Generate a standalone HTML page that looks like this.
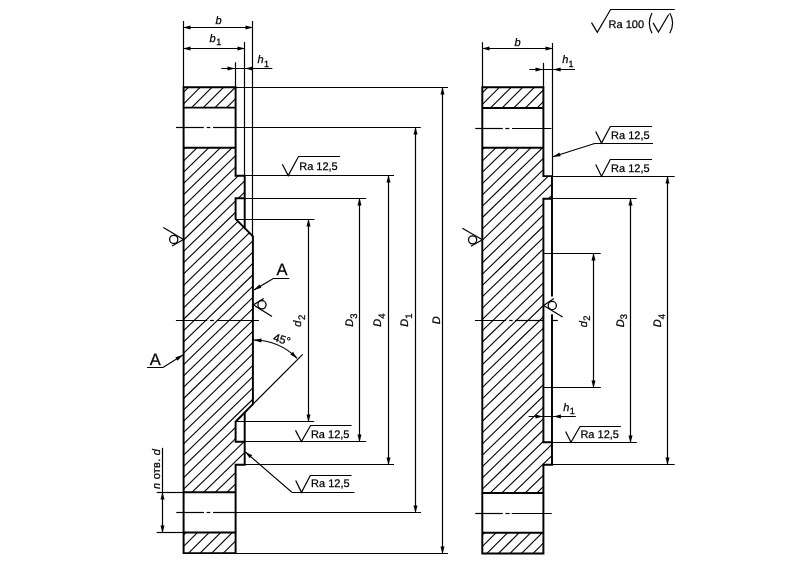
<!DOCTYPE html>
<html><head><meta charset="utf-8"><title>Flange drawing</title>
<style>html,body{margin:0;padding:0;background:#fff;}body{width:786px;height:576px;overflow:hidden;font-family:"Liberation Sans",sans-serif;}svg text{font-family:"Liberation Sans",sans-serif;text-rendering:geometricPrecision;}svg{will-change:transform;filter:grayscale(1);}</style>
</head><body>
<svg width="786" height="576" viewBox="0 0 786 576" style="display:block">
<defs><clipPath id="cl"><path d="M183.60 147.80 L235.60 147.80 L235.60 175.70 L244.70 175.70 L244.70 198.30 L235.60 198.30 L235.60 218.90 L252.90 236.40 L252.90 404.20 L235.60 421.70 L235.60 441.80 L244.70 441.80 L244.70 464.80 L235.60 464.80 L235.60 492.30 L183.60 492.30 Z "/></clipPath><clipPath id="clt"><path d="M183.60 87.20 L235.60 87.20 L235.60 107.60 L183.60 107.60 Z "/></clipPath><clipPath id="clb"><path d="M183.60 532.40 L235.60 532.40 L235.60 553.10 L183.60 553.10 Z "/></clipPath><clipPath id="cr"><path d="M482.30 147.80 L543.40 147.80 L543.40 176.10 L552.00 176.10 L552.00 198.70 L543.40 198.70 L543.40 442.20 L552.00 442.20 L552.00 464.80 L543.40 464.80 L543.40 493.00 L482.30 493.00 Z "/></clipPath><clipPath id="crt"><path d="M482.30 87.30 L543.40 87.30 L543.40 107.90 L482.30 107.90 Z "/></clipPath><clipPath id="crb"><path d="M482.30 532.80 L543.40 532.80 L543.40 553.50 L482.30 553.50 Z "/></clipPath></defs>
<rect width="786" height="576" fill="#fff"/>
<g stroke="#000" fill="none" stroke-linecap="butt" stroke-linejoin="miter" font-family="Liberation Sans, sans-serif">
<g clip-path="url(#cl)">
<line x1="178.60" y1="143.02" x2="257.90" y2="66.10" stroke-width="1.1" />
<line x1="178.60" y1="154.34" x2="257.90" y2="77.42" stroke-width="1.1" />
<line x1="178.60" y1="165.66" x2="257.90" y2="88.74" stroke-width="1.1" />
<line x1="178.60" y1="176.98" x2="257.90" y2="100.06" stroke-width="1.1" />
<line x1="178.60" y1="188.30" x2="257.90" y2="111.38" stroke-width="1.1" />
<line x1="178.60" y1="199.62" x2="257.90" y2="122.70" stroke-width="1.1" />
<line x1="178.60" y1="210.94" x2="257.90" y2="134.02" stroke-width="1.1" />
<line x1="178.60" y1="222.26" x2="257.90" y2="145.34" stroke-width="1.1" />
<line x1="178.60" y1="233.58" x2="257.90" y2="156.66" stroke-width="1.1" />
<line x1="178.60" y1="244.90" x2="257.90" y2="167.98" stroke-width="1.1" />
<line x1="178.60" y1="256.22" x2="257.90" y2="179.30" stroke-width="1.1" />
<line x1="178.60" y1="267.54" x2="257.90" y2="190.62" stroke-width="1.1" />
<line x1="178.60" y1="278.86" x2="257.90" y2="201.94" stroke-width="1.1" />
<line x1="178.60" y1="290.18" x2="257.90" y2="213.26" stroke-width="1.1" />
<line x1="178.60" y1="301.50" x2="257.90" y2="224.58" stroke-width="1.1" />
<line x1="178.60" y1="312.82" x2="257.90" y2="235.90" stroke-width="1.1" />
<line x1="178.60" y1="324.14" x2="257.90" y2="247.22" stroke-width="1.1" />
<line x1="178.60" y1="335.46" x2="257.90" y2="258.54" stroke-width="1.1" />
<line x1="178.60" y1="346.78" x2="257.90" y2="269.86" stroke-width="1.1" />
<line x1="178.60" y1="358.10" x2="257.90" y2="281.18" stroke-width="1.1" />
<line x1="178.60" y1="369.42" x2="257.90" y2="292.50" stroke-width="1.1" />
<line x1="178.60" y1="380.74" x2="257.90" y2="303.82" stroke-width="1.1" />
<line x1="178.60" y1="392.06" x2="257.90" y2="315.14" stroke-width="1.1" />
<line x1="178.60" y1="403.38" x2="257.90" y2="326.46" stroke-width="1.1" />
<line x1="178.60" y1="414.70" x2="257.90" y2="337.78" stroke-width="1.1" />
<line x1="178.60" y1="426.02" x2="257.90" y2="349.10" stroke-width="1.1" />
<line x1="178.60" y1="437.34" x2="257.90" y2="360.42" stroke-width="1.1" />
<line x1="178.60" y1="448.66" x2="257.90" y2="371.74" stroke-width="1.1" />
<line x1="178.60" y1="459.98" x2="257.90" y2="383.06" stroke-width="1.1" />
<line x1="178.60" y1="471.30" x2="257.90" y2="394.38" stroke-width="1.1" />
<line x1="178.60" y1="482.62" x2="257.90" y2="405.70" stroke-width="1.1" />
<line x1="178.60" y1="493.94" x2="257.90" y2="417.02" stroke-width="1.1" />
<line x1="178.60" y1="505.26" x2="257.90" y2="428.34" stroke-width="1.1" />
<line x1="178.60" y1="516.58" x2="257.90" y2="439.66" stroke-width="1.1" />
<line x1="178.60" y1="527.90" x2="257.90" y2="450.98" stroke-width="1.1" />
<line x1="178.60" y1="539.22" x2="257.90" y2="462.30" stroke-width="1.1" />
<line x1="178.60" y1="550.54" x2="257.90" y2="473.62" stroke-width="1.1" />
<line x1="178.60" y1="561.86" x2="257.90" y2="484.94" stroke-width="1.1" />
<line x1="178.60" y1="573.18" x2="257.90" y2="496.26" stroke-width="1.1" />
</g>
<g clip-path="url(#clt)">
<line x1="178.60" y1="85.50" x2="257.90" y2="6.20" stroke-width="1.1" />
<line x1="178.60" y1="97.20" x2="257.90" y2="17.90" stroke-width="1.1" />
<line x1="178.60" y1="108.90" x2="257.90" y2="29.60" stroke-width="1.1" />
<line x1="178.60" y1="120.60" x2="257.90" y2="41.30" stroke-width="1.1" />
<line x1="178.60" y1="132.30" x2="257.90" y2="53.00" stroke-width="1.1" />
<line x1="178.60" y1="144.00" x2="257.90" y2="64.70" stroke-width="1.1" />
<line x1="178.60" y1="155.70" x2="257.90" y2="76.40" stroke-width="1.1" />
<line x1="178.60" y1="167.40" x2="257.90" y2="88.10" stroke-width="1.1" />
<line x1="178.60" y1="179.10" x2="257.90" y2="99.80" stroke-width="1.1" />
<line x1="178.60" y1="190.80" x2="257.90" y2="111.50" stroke-width="1.1" />
</g>
<g clip-path="url(#clb)">
<line x1="178.60" y1="528.23" x2="257.90" y2="448.93" stroke-width="1.1" />
<line x1="178.60" y1="539.83" x2="257.90" y2="460.53" stroke-width="1.1" />
<line x1="178.60" y1="551.43" x2="257.90" y2="472.13" stroke-width="1.1" />
<line x1="178.60" y1="563.03" x2="257.90" y2="483.73" stroke-width="1.1" />
<line x1="178.60" y1="574.63" x2="257.90" y2="495.33" stroke-width="1.1" />
<line x1="178.60" y1="586.23" x2="257.90" y2="506.93" stroke-width="1.1" />
<line x1="178.60" y1="597.83" x2="257.90" y2="518.53" stroke-width="1.1" />
<line x1="178.60" y1="609.43" x2="257.90" y2="530.13" stroke-width="1.1" />
<line x1="178.60" y1="621.03" x2="257.90" y2="541.73" stroke-width="1.1" />
<line x1="178.60" y1="632.63" x2="257.90" y2="553.33" stroke-width="1.1" />
</g>
<polyline points="183.60,87.20 235.60,87.20 235.60,175.70 244.70,175.70 244.70,198.30 235.60,198.30 235.60,218.90 252.90,236.40 252.90,404.20 235.60,421.70 235.60,441.80 244.70,441.80 244.70,464.80 235.60,464.80 235.60,553.10 183.60,553.10 183.60,87.20 235.60,87.20" stroke-width="1.95" fill="none" />
<line x1="183.60" y1="107.60" x2="235.60" y2="107.60" stroke-width="1.95" />
<line x1="183.60" y1="147.80" x2="235.60" y2="147.80" stroke-width="1.95" />
<line x1="183.60" y1="492.30" x2="235.60" y2="492.30" stroke-width="1.95" />
<line x1="183.60" y1="532.40" x2="235.60" y2="532.40" stroke-width="1.95" />
<line x1="244.70" y1="198.30" x2="244.70" y2="227.90" stroke-width="1.95" />
<line x1="244.70" y1="441.80" x2="244.70" y2="412.70" stroke-width="1.95" />
<line x1="183.50" y1="21.00" x2="183.50" y2="87.20" stroke-width="1.2" />
<line x1="252.50" y1="21.00" x2="252.50" y2="236.40" stroke-width="1.2" />
<line x1="244.50" y1="42.00" x2="244.50" y2="175.70" stroke-width="1.2" />
<line x1="235.50" y1="62.30" x2="235.50" y2="87.20" stroke-width="1.2" />
<line x1="183.60" y1="27.50" x2="252.90" y2="27.50" stroke-width="1.2" />
<polygon points="183.00,27.50 190.50,25.50 190.50,29.50" fill="#000" stroke="none"/>
<polygon points="253.00,27.50 245.50,29.50 245.50,25.50" fill="#000" stroke="none"/>
<line x1="183.60" y1="48.50" x2="244.70" y2="48.50" stroke-width="1.2" />
<polygon points="183.00,48.50 190.50,46.50 190.50,50.50" fill="#000" stroke="none"/>
<polygon points="245.00,48.50 237.50,50.50 237.50,46.50" fill="#000" stroke="none"/>
<line x1="221.30" y1="68.50" x2="272.30" y2="68.50" stroke-width="1.2" />
<polygon points="235.00,68.50 227.50,70.50 227.50,66.50" fill="#000" stroke="none"/>
<polygon points="245.00,68.50 252.50,66.50 252.50,70.50" fill="#000" stroke="none"/>
<text fill="#000" stroke="#000" stroke-width="0.25" x="215.40" y="24.40" text-anchor="start" style="font-size:11px;font-style:italic;" >b</text>
<text fill="#000" stroke="#000" stroke-width="0.25" x="209.60" y="42.00" text-anchor="start" style="font-size:11px;font-style:italic;" >b</text>
<text fill="#000" stroke="#000" stroke-width="0.25" x="216.20" y="45.20" text-anchor="start" style="font-size:9px;" >1</text>
<text fill="#000" stroke="#000" stroke-width="0.25" x="257.60" y="63.10" text-anchor="start" style="font-size:11px;font-style:italic;" >h</text>
<text fill="#000" stroke="#000" stroke-width="0.25" x="264.00" y="66.60" text-anchor="start" style="font-size:9px;" >1</text>
<line x1="235.60" y1="87.50" x2="448.00" y2="87.50" stroke-width="1.2" />
<line x1="235.60" y1="127.50" x2="420.80" y2="127.50" stroke-width="1.2" />
<line x1="244.70" y1="175.50" x2="394.00" y2="175.50" stroke-width="1.2" />
<line x1="244.70" y1="198.50" x2="366.20" y2="198.50" stroke-width="1.2" />
<line x1="235.60" y1="219.50" x2="314.40" y2="219.50" stroke-width="1.2" />
<line x1="235.60" y1="421.50" x2="314.20" y2="421.50" stroke-width="1.2" />
<line x1="244.70" y1="441.50" x2="366.20" y2="441.50" stroke-width="1.2" />
<line x1="244.70" y1="464.50" x2="394.00" y2="464.50" stroke-width="1.2" />
<line x1="235.60" y1="512.50" x2="421.00" y2="512.50" stroke-width="1.2" />
<line x1="235.60" y1="553.50" x2="448.00" y2="553.50" stroke-width="1.2" />
<line x1="176.00" y1="127.50" x2="203.80" y2="127.50" stroke-width="1.2" />
<line x1="206.70" y1="127.50" x2="210.30" y2="127.50" stroke-width="1.2" />
<line x1="213.00" y1="127.50" x2="235.60" y2="127.50" stroke-width="1.2" />
<line x1="176.30" y1="512.50" x2="204.00" y2="512.50" stroke-width="1.2" />
<line x1="206.60" y1="512.50" x2="210.30" y2="512.50" stroke-width="1.2" />
<line x1="213.00" y1="512.50" x2="235.60" y2="512.50" stroke-width="1.2" />
<line x1="175.90" y1="320.50" x2="207.20" y2="320.50" stroke-width="1.2" />
<line x1="209.90" y1="320.50" x2="214.00" y2="320.50" stroke-width="1.2" />
<line x1="216.60" y1="320.50" x2="258.90" y2="320.50" stroke-width="1.2" />
<line x1="308.50" y1="219.00" x2="308.50" y2="421.00" stroke-width="1.2" />
<polygon points="308.50,219.00 310.50,226.50 306.50,226.50" fill="#000" stroke="none"/>
<polygon points="308.50,422.00 306.50,414.50 310.50,414.50" fill="#000" stroke="none"/>
<line x1="359.50" y1="198.30" x2="359.50" y2="441.80" stroke-width="1.2" />
<polygon points="359.50,198.00 361.50,205.50 357.50,205.50" fill="#000" stroke="none"/>
<polygon points="359.50,442.00 357.50,434.50 361.50,434.50" fill="#000" stroke="none"/>
<line x1="388.50" y1="175.70" x2="388.50" y2="464.80" stroke-width="1.2" />
<polygon points="388.50,175.00 390.50,182.50 386.50,182.50" fill="#000" stroke="none"/>
<polygon points="388.50,465.00 386.50,457.50 390.50,457.50" fill="#000" stroke="none"/>
<line x1="415.50" y1="127.80" x2="415.50" y2="512.30" stroke-width="1.2" />
<polygon points="415.50,127.00 417.50,134.50 413.50,134.50" fill="#000" stroke="none"/>
<polygon points="415.50,513.00 413.50,505.50 417.50,505.50" fill="#000" stroke="none"/>
<line x1="442.50" y1="87.20" x2="442.50" y2="553.10" stroke-width="1.2" />
<polygon points="442.50,87.00 444.50,94.50 440.50,94.50" fill="#000" stroke="none"/>
<polygon points="442.50,554.00 440.50,546.50 444.50,546.50" fill="#000" stroke="none"/>
<g transform="translate(301.40 320.30) rotate(-90)">
<text fill="#000" stroke="#000" stroke-width="0.25" x="-6.4" y="0" style="font-size:11px;font-style:italic">d</text>
<text fill="#000" stroke="#000" stroke-width="0.25" x="0.2" y="3.6" style="font-size:9.5px">2</text>
</g>
<g transform="translate(352.90 320.30) rotate(-90)">
<text fill="#000" stroke="#000" stroke-width="0.25" x="-6.4" y="0" style="font-size:11px;font-style:italic">D</text>
<text fill="#000" stroke="#000" stroke-width="0.25" x="1.6" y="3.6" style="font-size:9.5px">3</text>
</g>
<g transform="translate(381.30 320.30) rotate(-90)">
<text fill="#000" stroke="#000" stroke-width="0.25" x="-6.4" y="0" style="font-size:11px;font-style:italic">D</text>
<text fill="#000" stroke="#000" stroke-width="0.25" x="1.6" y="3.6" style="font-size:9.5px">4</text>
</g>
<g transform="translate(408.40 320.30) rotate(-90)">
<text fill="#000" stroke="#000" stroke-width="0.25" x="-6.4" y="0" style="font-size:11px;font-style:italic">D</text>
<text fill="#000" stroke="#000" stroke-width="0.25" x="1.6" y="3.6" style="font-size:9.5px">1</text>
</g>
<g transform="translate(439.60 320.30) rotate(-90)">
<text fill="#000" stroke="#000" stroke-width="0.25" x="-4" y="0" style="font-size:11px;font-style:italic">D</text>
</g>
<line x1="183.50" y1="239.50" x2="163.40" y2="227.40" stroke-width="1.2" />
<line x1="183.50" y1="239.50" x2="172.00" y2="246.10" stroke-width="1.2" />
<circle cx="173.70" cy="239.40" r="4.1" fill="none" stroke-width="1.25"/>
<line x1="253.40" y1="304.80" x2="272.00" y2="316.60" stroke-width="1.2" />
<line x1="253.40" y1="304.80" x2="263.70" y2="298.40" stroke-width="1.2" />
<circle cx="262.00" cy="304.80" r="4.1" fill="none" stroke-width="1.25"/>
<text fill="#000" stroke="#000" stroke-width="0.25" x="276.50" y="275.40" text-anchor="start" style="font-size:16.5px;" >A</text>
<polyline points="289.30,278.50 273.30,278.50 254.10,289.90" stroke-width="1.2" fill="none" />
<polygon points="253.90,290.00 259.29,284.41 261.35,287.83" fill="#000" stroke="none"/>
<text fill="#000" stroke="#000" stroke-width="0.25" x="149.80" y="364.80" text-anchor="start" style="font-size:16.5px;" >A</text>
<polyline points="147.10,367.50 163.00,367.50 182.90,355.10" stroke-width="1.2" fill="none" />
<polygon points="182.90,355.10 177.49,360.67 175.44,357.23" fill="#000" stroke="none"/>
<path d="M253.00 340.00 A62.3 62.3 0 0 1 297.05 358.25" fill="none" stroke-width="1.2"/>
<polygon points="253.90,340.10 261.51,338.55 261.27,342.55" fill="#000" stroke="none"/>
<polygon points="297.05,358.25 290.24,354.53 292.99,351.63" fill="#000" stroke="none"/>
<line x1="252.90" y1="404.20" x2="302.70" y2="354.30" stroke-width="1.2" />
<text fill="#000" stroke="#000" stroke-width="0.25" x="280.80" y="343.20" text-anchor="middle" style="font-size:11.5px;" transform="rotate(16 280.80 343.20)" >45°</text>
<line x1="156.70" y1="492.50" x2="183.60" y2="492.50" stroke-width="1.2" />
<line x1="156.70" y1="532.50" x2="183.60" y2="532.50" stroke-width="1.2" />
<line x1="162.50" y1="447.80" x2="162.50" y2="532.40" stroke-width="1.2" />
<polygon points="162.50,492.00 164.50,499.50 160.50,499.50" fill="#000" stroke="none"/>
<polygon points="162.50,533.00 160.50,525.50 164.50,525.50" fill="#000" stroke="none"/>
<g transform="translate(160.3 489.0) rotate(-90)"><text fill="#000" stroke="#000" stroke-width="0.25" x="0" y="0" style="font-size:11px;letter-spacing:0.25px"><tspan style="font-style:italic">n</tspan> отв. <tspan style="font-style:italic">d</tspan></text></g>
<polyline points="282.30,164.30 288.20,175.60 298.50,156.50 339.90,156.50" stroke-width="1.2" fill="none" />
<text fill="#000" stroke="#000" stroke-width="0.25" x="299.20" y="170.10" text-anchor="start" style="font-size:11px;" >Ra 12,5</text>
<polyline points="295.50,430.40 301.40,441.50 310.60,425.50 351.60,425.50" stroke-width="1.2" fill="none" />
<text fill="#000" stroke="#000" stroke-width="0.25" x="310.90" y="437.50" text-anchor="start" style="font-size:11px;" >Ra 12,5</text>
<polyline points="295.70,480.50 301.50,492.30 310.30,475.50 351.60,475.50" stroke-width="1.2" fill="none" />
<text fill="#000" stroke="#000" stroke-width="0.25" x="311.10" y="487.10" text-anchor="start" style="font-size:11px;" >Ra 12,5</text>
<polyline points="354.40,492.50 292.10,492.50 245.30,451.90" stroke-width="1.2" fill="none" />
<polygon points="245.30,451.90 252.28,455.29 249.67,458.31" fill="#000" stroke="none"/>
<g clip-path="url(#cr)">
<line x1="477.30" y1="143.18" x2="557.00" y2="65.87" stroke-width="1.1" />
<line x1="477.30" y1="154.50" x2="557.00" y2="77.19" stroke-width="1.1" />
<line x1="477.30" y1="165.82" x2="557.00" y2="88.51" stroke-width="1.1" />
<line x1="477.30" y1="177.14" x2="557.00" y2="99.83" stroke-width="1.1" />
<line x1="477.30" y1="188.46" x2="557.00" y2="111.15" stroke-width="1.1" />
<line x1="477.30" y1="199.78" x2="557.00" y2="122.47" stroke-width="1.1" />
<line x1="477.30" y1="211.10" x2="557.00" y2="133.79" stroke-width="1.1" />
<line x1="477.30" y1="222.42" x2="557.00" y2="145.11" stroke-width="1.1" />
<line x1="477.30" y1="233.74" x2="557.00" y2="156.43" stroke-width="1.1" />
<line x1="477.30" y1="245.06" x2="557.00" y2="167.75" stroke-width="1.1" />
<line x1="477.30" y1="256.38" x2="557.00" y2="179.07" stroke-width="1.1" />
<line x1="477.30" y1="267.70" x2="557.00" y2="190.39" stroke-width="1.1" />
<line x1="477.30" y1="279.02" x2="557.00" y2="201.71" stroke-width="1.1" />
<line x1="477.30" y1="290.34" x2="557.00" y2="213.03" stroke-width="1.1" />
<line x1="477.30" y1="301.66" x2="557.00" y2="224.35" stroke-width="1.1" />
<line x1="477.30" y1="312.98" x2="557.00" y2="235.67" stroke-width="1.1" />
<line x1="477.30" y1="324.30" x2="557.00" y2="246.99" stroke-width="1.1" />
<line x1="477.30" y1="335.62" x2="557.00" y2="258.31" stroke-width="1.1" />
<line x1="477.30" y1="346.94" x2="557.00" y2="269.63" stroke-width="1.1" />
<line x1="477.30" y1="358.26" x2="557.00" y2="280.95" stroke-width="1.1" />
<line x1="477.30" y1="369.58" x2="557.00" y2="292.27" stroke-width="1.1" />
<line x1="477.30" y1="380.90" x2="557.00" y2="303.59" stroke-width="1.1" />
<line x1="477.30" y1="392.22" x2="557.00" y2="314.91" stroke-width="1.1" />
<line x1="477.30" y1="403.54" x2="557.00" y2="326.23" stroke-width="1.1" />
<line x1="477.30" y1="414.86" x2="557.00" y2="337.55" stroke-width="1.1" />
<line x1="477.30" y1="426.18" x2="557.00" y2="348.87" stroke-width="1.1" />
<line x1="477.30" y1="437.50" x2="557.00" y2="360.19" stroke-width="1.1" />
<line x1="477.30" y1="448.82" x2="557.00" y2="371.51" stroke-width="1.1" />
<line x1="477.30" y1="460.14" x2="557.00" y2="382.83" stroke-width="1.1" />
<line x1="477.30" y1="471.46" x2="557.00" y2="394.15" stroke-width="1.1" />
<line x1="477.30" y1="482.78" x2="557.00" y2="405.47" stroke-width="1.1" />
<line x1="477.30" y1="494.10" x2="557.00" y2="416.79" stroke-width="1.1" />
<line x1="477.30" y1="505.42" x2="557.00" y2="428.11" stroke-width="1.1" />
<line x1="477.30" y1="516.74" x2="557.00" y2="439.43" stroke-width="1.1" />
<line x1="477.30" y1="528.06" x2="557.00" y2="450.75" stroke-width="1.1" />
<line x1="477.30" y1="539.38" x2="557.00" y2="462.07" stroke-width="1.1" />
<line x1="477.30" y1="550.70" x2="557.00" y2="473.39" stroke-width="1.1" />
<line x1="477.30" y1="562.02" x2="557.00" y2="484.71" stroke-width="1.1" />
<line x1="477.30" y1="573.34" x2="557.00" y2="496.03" stroke-width="1.1" />
</g>
<g clip-path="url(#crt)">
<line x1="477.30" y1="86.16" x2="557.00" y2="6.46" stroke-width="1.1" />
<line x1="477.30" y1="97.81" x2="557.00" y2="18.11" stroke-width="1.1" />
<line x1="477.30" y1="109.46" x2="557.00" y2="29.76" stroke-width="1.1" />
<line x1="477.30" y1="121.11" x2="557.00" y2="41.41" stroke-width="1.1" />
<line x1="477.30" y1="132.76" x2="557.00" y2="53.06" stroke-width="1.1" />
<line x1="477.30" y1="144.41" x2="557.00" y2="64.71" stroke-width="1.1" />
<line x1="477.30" y1="156.06" x2="557.00" y2="76.36" stroke-width="1.1" />
<line x1="477.30" y1="167.71" x2="557.00" y2="88.01" stroke-width="1.1" />
<line x1="477.30" y1="179.36" x2="557.00" y2="99.66" stroke-width="1.1" />
<line x1="477.30" y1="191.01" x2="557.00" y2="111.31" stroke-width="1.1" />
</g>
<g clip-path="url(#crb)">
<line x1="477.30" y1="528.47" x2="557.00" y2="448.77" stroke-width="1.1" />
<line x1="477.30" y1="540.00" x2="557.00" y2="460.30" stroke-width="1.1" />
<line x1="477.30" y1="551.53" x2="557.00" y2="471.83" stroke-width="1.1" />
<line x1="477.30" y1="563.06" x2="557.00" y2="483.36" stroke-width="1.1" />
<line x1="477.30" y1="574.59" x2="557.00" y2="494.89" stroke-width="1.1" />
<line x1="477.30" y1="586.12" x2="557.00" y2="506.42" stroke-width="1.1" />
<line x1="477.30" y1="597.65" x2="557.00" y2="517.95" stroke-width="1.1" />
<line x1="477.30" y1="609.18" x2="557.00" y2="529.48" stroke-width="1.1" />
<line x1="477.30" y1="620.71" x2="557.00" y2="541.01" stroke-width="1.1" />
<line x1="477.30" y1="632.24" x2="557.00" y2="552.54" stroke-width="1.1" />
</g>
<polyline points="482.30,87.30 543.40,87.30 543.40,176.10 552.00,176.10 552.00,198.70 543.40,198.70 543.40,442.20 552.00,442.20 552.00,464.80 543.40,464.80 543.40,553.50 482.30,553.50 482.30,87.30 543.40,87.30" stroke-width="1.95" fill="none" />
<line x1="482.30" y1="107.90" x2="543.40" y2="107.90" stroke-width="1.95" />
<line x1="482.30" y1="147.80" x2="543.40" y2="147.80" stroke-width="1.95" />
<line x1="482.30" y1="493.00" x2="543.40" y2="493.00" stroke-width="1.95" />
<line x1="482.30" y1="532.80" x2="543.40" y2="532.80" stroke-width="1.95" />
<line x1="552.00" y1="198.70" x2="552.00" y2="296.40" stroke-width="1.95" />
<line x1="552.00" y1="314.20" x2="552.00" y2="442.20" stroke-width="1.95" />
<line x1="482.50" y1="42.20" x2="482.50" y2="87.30" stroke-width="1.2" />
<line x1="552.50" y1="43.00" x2="552.50" y2="176.10" stroke-width="1.2" />
<line x1="543.50" y1="62.90" x2="543.50" y2="87.30" stroke-width="1.2" />
<line x1="482.30" y1="48.50" x2="552.10" y2="48.50" stroke-width="1.2" />
<polygon points="482.00,48.50 489.50,46.50 489.50,50.50" fill="#000" stroke="none"/>
<polygon points="553.00,48.50 545.50,50.50 545.50,46.50" fill="#000" stroke="none"/>
<line x1="529.30" y1="69.50" x2="574.90" y2="69.50" stroke-width="1.2" />
<polygon points="543.00,69.50 535.50,71.50 535.50,67.50" fill="#000" stroke="none"/>
<polygon points="553.10,69.50 560.60,67.50 560.60,71.50" fill="#000" stroke="none"/>
<text fill="#000" stroke="#000" stroke-width="0.25" x="514.60" y="45.70" text-anchor="start" style="font-size:11px;font-style:italic;" >b</text>
<text fill="#000" stroke="#000" stroke-width="0.25" x="562.30" y="63.20" text-anchor="start" style="font-size:11px;font-style:italic;" >h</text>
<text fill="#000" stroke="#000" stroke-width="0.25" x="568.40" y="66.70" text-anchor="start" style="font-size:9px;" >1</text>
<line x1="475.20" y1="128.50" x2="502.80" y2="128.50" stroke-width="1.2" />
<line x1="505.30" y1="128.50" x2="509.30" y2="128.50" stroke-width="1.2" />
<line x1="512.00" y1="128.50" x2="551.40" y2="128.50" stroke-width="1.2" />
<line x1="475.20" y1="513.50" x2="502.80" y2="513.50" stroke-width="1.2" />
<line x1="505.50" y1="513.50" x2="509.70" y2="513.50" stroke-width="1.2" />
<line x1="511.70" y1="513.50" x2="551.80" y2="513.50" stroke-width="1.2" />
<line x1="474.90" y1="320.50" x2="506.10" y2="320.50" stroke-width="1.2" />
<line x1="509.20" y1="320.50" x2="512.70" y2="320.50" stroke-width="1.2" />
<line x1="515.00" y1="320.50" x2="543.40" y2="320.50" stroke-width="1.2" />
<line x1="552.00" y1="320.50" x2="557.80" y2="320.50" stroke-width="1.2" />
<line x1="552.00" y1="176.50" x2="674.70" y2="176.50" stroke-width="1.2" />
<line x1="552.00" y1="198.50" x2="636.60" y2="198.50" stroke-width="1.2" />
<line x1="543.40" y1="253.50" x2="600.70" y2="253.50" stroke-width="1.2" />
<line x1="543.40" y1="387.50" x2="600.80" y2="387.50" stroke-width="1.2" />
<line x1="552.00" y1="442.50" x2="636.80" y2="442.50" stroke-width="1.2" />
<line x1="552.00" y1="464.50" x2="674.70" y2="464.50" stroke-width="1.2" />
<line x1="593.50" y1="253.80" x2="593.50" y2="387.10" stroke-width="1.2" />
<polygon points="593.50,253.00 595.50,260.50 591.50,260.50" fill="#000" stroke="none"/>
<polygon points="593.50,388.00 591.50,380.50 595.50,380.50" fill="#000" stroke="none"/>
<line x1="630.50" y1="198.90" x2="630.50" y2="442.20" stroke-width="1.2" />
<polygon points="630.50,198.00 632.50,205.50 628.50,205.50" fill="#000" stroke="none"/>
<polygon points="630.50,443.00 628.50,435.50 632.50,435.50" fill="#000" stroke="none"/>
<line x1="667.50" y1="176.10" x2="667.50" y2="464.80" stroke-width="1.2" />
<polygon points="667.50,176.00 669.50,183.50 665.50,183.50" fill="#000" stroke="none"/>
<polygon points="667.50,465.00 665.50,457.50 669.50,457.50" fill="#000" stroke="none"/>
<g transform="translate(586.70 320.90) rotate(-90)">
<text fill="#000" stroke="#000" stroke-width="0.25" x="-6.4" y="0" style="font-size:11px;font-style:italic">d</text>
<text fill="#000" stroke="#000" stroke-width="0.25" x="0.2" y="3.6" style="font-size:9.5px">2</text>
</g>
<g transform="translate(623.60 320.90) rotate(-90)">
<text fill="#000" stroke="#000" stroke-width="0.25" x="-6.4" y="0" style="font-size:11px;font-style:italic">D</text>
<text fill="#000" stroke="#000" stroke-width="0.25" x="1.6" y="3.6" style="font-size:9.5px">3</text>
</g>
<g transform="translate(660.90 320.90) rotate(-90)">
<text fill="#000" stroke="#000" stroke-width="0.25" x="-6.4" y="0" style="font-size:11px;font-style:italic">D</text>
<text fill="#000" stroke="#000" stroke-width="0.25" x="1.6" y="3.6" style="font-size:9.5px">4</text>
</g>
<line x1="528.60" y1="416.50" x2="575.80" y2="416.50" stroke-width="1.2" />
<polygon points="543.00,416.50 535.50,418.50 535.50,414.50" fill="#000" stroke="none"/>
<polygon points="553.40,416.50 560.90,414.50 560.90,418.50" fill="#000" stroke="none"/>
<text fill="#000" stroke="#000" stroke-width="0.25" x="563.30" y="411.00" text-anchor="start" style="font-size:11px;font-style:italic;" >h</text>
<text fill="#000" stroke="#000" stroke-width="0.25" x="569.70" y="414.10" text-anchor="start" style="font-size:9px;" >1</text>
<line x1="482.40" y1="239.85" x2="462.30" y2="228.20" stroke-width="1.2" />
<line x1="482.40" y1="239.85" x2="470.90" y2="246.30" stroke-width="1.2" />
<circle cx="472.60" cy="239.85" r="4.1" fill="none" stroke-width="1.25"/>
<line x1="543.60" y1="305.50" x2="562.60" y2="317.00" stroke-width="1.2" />
<line x1="543.60" y1="305.50" x2="553.90" y2="298.50" stroke-width="1.2" />
<circle cx="552.30" cy="305.50" r="4.1" fill="none" stroke-width="1.25"/>
<polyline points="595.70,131.50 601.50,143.10 610.30,126.50 652.10,126.50" stroke-width="1.2" fill="none" />
<text fill="#000" stroke="#000" stroke-width="0.25" x="611.10" y="138.50" text-anchor="start" style="font-size:11px;" >Ra 12,5</text>
<polyline points="653.00,143.50 594.60,143.50 552.90,156.70" stroke-width="1.2" fill="none" />
<polygon points="552.90,156.70 559.41,152.47 560.65,156.28" fill="#000" stroke="none"/>
<polyline points="595.70,164.60 601.50,176.20 610.30,159.50 652.10,159.50" stroke-width="1.2" fill="none" />
<text fill="#000" stroke="#000" stroke-width="0.25" x="611.10" y="171.70" text-anchor="start" style="font-size:11px;" >Ra 12,5</text>
<polyline points="565.60,431.40 571.00,442.20 580.00,426.50 620.90,426.50" stroke-width="1.2" fill="none" />
<text fill="#000" stroke="#000" stroke-width="0.25" x="580.40" y="438.40" text-anchor="start" style="font-size:11px;" >Ra 12,5</text>
<polyline points="591.50,22.60 597.30,32.40 610.60,9.50 674.80,9.50" stroke-width="1.2" fill="none" />
<text fill="#000" stroke="#000" stroke-width="0.25" x="608.60" y="27.80" text-anchor="start" style="font-size:11px;" >Ra 100</text>
<path d="M652.0 13 Q646.6 23.1 652.0 33.3" fill="none" stroke-width="1.2"/>
<path d="M669.8 13 Q675.4 23.1 669.8 33.3" fill="none" stroke-width="1.2"/>
<polyline points="653.10,22.90 658.40,32.10 668.70,14.50" stroke-width="1.2" fill="none" />
</g>
</svg>
</body></html>
